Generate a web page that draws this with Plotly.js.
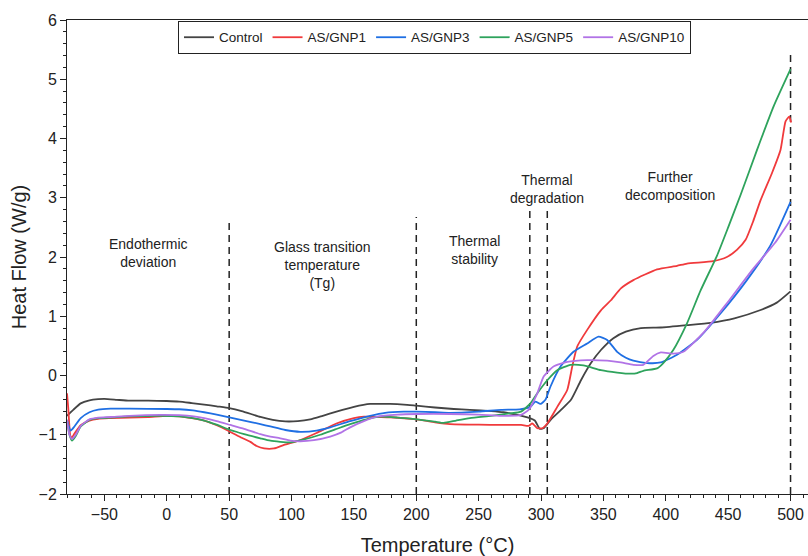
<!DOCTYPE html>
<html>
<head>
<meta charset="utf-8">
<script src="https://cdn.plot.ly/plotly-3.0.1.min.js"></script>
<style>html,body{margin:0;padding:0;background:#fff;}#chart{width:808px;height:556px;}</style>
</head>
<body>
<div id="chart"></div>
<script>
// Series names
const seriesNames = ["Control", "AS/GNP1", "AS/GNP3", "AS/GNP5", "AS/GNP10"];

// Control
const controlT = [-80,-75,-69,-62,-55,-50,-40,-30,-15,0,10,20,30,40,50,60,75,85,95,105,115,125,136,150,163,179,190,200,215,230,243,260,270,280,286,291,295,299,302,305,308,316,324,332,340,348,358,368,380,396,417,436,455,476,489,500];
const controlH = [-0.68,-0.58,-0.47,-0.42,-0.40,-0.395,-0.41,-0.425,-0.425,-0.43,-0.44,-0.465,-0.49,-0.52,-0.55,-0.60,-0.70,-0.75,-0.775,-0.77,-0.74,-0.68,-0.61,-0.53,-0.48,-0.48,-0.49,-0.51,-0.54,-0.565,-0.58,-0.60,-0.62,-0.66,-0.69,-0.72,-0.76,-0.90,-0.89,-0.82,-0.74,-0.58,-0.41,-0.08,0.21,0.43,0.63,0.74,0.80,0.81,0.85,0.89,0.965,1.105,1.23,1.42];

// AS/GNP1
const gnp1T = [-80,-79,-77.5,-76.5,-74,-69,-62,-55,-45,-30,-15,0,10,20,30,40,50,60,67,72,78,86,94,107,120,136,150,158,170,179,200,215,227,250,268,284,290,293,297,301,305,313,321,325,329,337,348,356,364,374,393,409,417,438,449,457,464,470,476,485,492,496,499,500.5];
const gnp1H = [-0.30,-0.55,-1.0,-1.06,-0.98,-0.84,-0.76,-0.73,-0.72,-0.71,-0.70,-0.68,-0.69,-0.72,-0.76,-0.84,-0.94,-1.05,-1.12,-1.19,-1.23,-1.23,-1.17,-1.09,-0.97,-0.81,-0.72,-0.695,-0.70,-0.705,-0.74,-0.79,-0.82,-0.83,-0.835,-0.835,-0.85,-0.81,-0.89,-0.89,-0.81,-0.53,-0.245,0.15,0.49,0.77,1.10,1.27,1.47,1.61,1.79,1.85,1.89,1.93,2.00,2.12,2.29,2.60,2.96,3.41,3.81,4.29,4.37,4.27];

// AS/GNP3
const gnp3T = [-80,-77,-74,-69,-62,-55,-45,-30,0,10,21,30,40,51,62,75,83,95,107,120,131,147,163,175,190,200,215,227,250,268,283,291.5,295.5,299.5,303.5,307.5,315.6,326,337,346,353,361,368,374,385,396,409,425,444,465,484,500];
const gnp3H = [-0.75,-0.93,-0.86,-0.72,-0.62,-0.575,-0.56,-0.56,-0.565,-0.57,-0.59,-0.62,-0.66,-0.71,-0.76,-0.82,-0.86,-0.92,-0.95,-0.93,-0.875,-0.77,-0.68,-0.63,-0.61,-0.61,-0.62,-0.63,-0.61,-0.58,-0.57,-0.53,-0.44,-0.48,-0.41,-0.19,0.15,0.40,0.54,0.655,0.60,0.40,0.30,0.25,0.21,0.22,0.35,0.60,1.05,1.61,2.20,2.93];

// AS/GNP5
const gnp5T = [-80,-78,-76,-73,-69,-62,-55,-45,-30,-5,10,21,30,40,51,62,75,83,99,110,123,135,147,160,171,185,200.7,215,222,232,243,260,275,284,291.5,297,305,313,323.6,334,348,361,372,377,382,393,398,406,417,428,441,450,460,473,486.6,500];
const gnp5H = [-0.75,-1.0,-1.10,-1.02,-0.86,-0.75,-0.72,-0.71,-0.69,-0.68,-0.69,-0.72,-0.76,-0.83,-0.92,-0.99,-1.06,-1.10,-1.13,-1.08,-1.00,-0.91,-0.82,-0.74,-0.695,-0.71,-0.74,-0.78,-0.80,-0.76,-0.72,-0.68,-0.64,-0.61,-0.47,-0.30,-0.08,0.09,0.18,0.17,0.09,0.05,0.03,0.04,0.08,0.12,0.21,0.43,0.88,1.44,2.02,2.50,3.05,3.80,4.55,5.17];

// AS/GNP10
const gnp10T = [-80,-78,-76,-73,-69,-62,-55,-45,-30,-5,10,21.6,30,40,51,62,75,83,91,99,107,118,131,140,147,158,168.6,185,200.7,227,250,268,283.5,290,297,302,310,321,337,353,364,374,382,390,396,406,414,431,449,470,487.6,500];
const gnp10H = [-0.75,-1.0,-1.07,-1.0,-0.85,-0.74,-0.71,-0.70,-0.68,-0.665,-0.67,-0.69,-0.72,-0.77,-0.835,-0.90,-0.99,-1.03,-1.06,-1.10,-1.11,-1.09,-1.03,-0.96,-0.875,-0.77,-0.695,-0.66,-0.65,-0.65,-0.66,-0.68,-0.67,-0.58,-0.30,-0.02,0.15,0.23,0.26,0.25,0.22,0.18,0.18,0.33,0.39,0.37,0.40,0.74,1.22,1.80,2.24,2.63];

// Region divider temperatures and their upper ends
const dividerT = [50, 200, 291, 305, 500];
const dividerTop = [2.59, 2.675, 2.8, 2.8, 5.41];

// Region labels
const regionLabels = ["Endothermic<br>deviation", "Glass transition<br>temperature<br>(Tg)", "Thermal<br>stability", "Thermal<br>degradation", "Further<br>decomposition"];
const regionLabelT = [-14.5, 124.5, 246.5, 304.5, 403];
const regionLabelH = [2.06, 1.87, 2.12, 3.15, 3.2];

const colors = ["#444444", "#f03a3c", "#1f6fe3", "#2ea35c", "#b173e6"];
const seriesT = [controlT, gnp1T, gnp3T, gnp5T, gnp10T];
const seriesH = [controlH, gnp1H, gnp3H, gnp5H, gnp10H];

const traces = [];
dividerT.forEach((t, i) => {
  traces.push({
    x: [t, t], y: [-2, dividerTop[i]], mode: "lines", showlegend: false, hoverinfo: "skip",
    line: {color: "#222", width: 1.5, dash: "7px,5px"}
  });
});
seriesNames.forEach((n, i) => {
  traces.push({
    x: seriesT[i], y: seriesH[i], name: n, mode: "lines",
    line: {color: colors[i], width: 1.8, shape: "spline", smoothing: 0.5}
  });
});

const font = "Liberation Sans, Arial, sans-serif";
const layout = {
  width: 808, height: 556,
  margin: {l: 67, r: 0, t: 20, b: 62},
  paper_bgcolor: "#fff", plot_bgcolor: "#fff",
  font: {family: font, color: "#222", size: 16},
  showlegend: true,
  legend: {
    orientation: "h", x: 0.1498, y: 0.998, xanchor: "left", yanchor: "top",
    bordercolor: "#222", borderwidth: 1, bgcolor: "#fff",
    font: {family: font, size: 13.5, color: "#222"}, itemwidth: 30, tracegroupgap: 0
  },
  xaxis: {
    range: [-80, 514], dtick: 50, tick0: 0, showgrid: false, zeroline: false,
    showline: true, linecolor: "#222", linewidth: 1, mirror: true,
    ticks: "outside", ticklen: 6, tickwidth: 1, tickcolor: "#222",
    minor: {dtick: 10, ticks: "outside", ticklen: 3, tickcolor: "#222", showgrid: false},
    tickfont: {family: font, size: 16, color: "#222"},
    title: {text: "Temperature (°C)", font: {family: font, size: 20, color: "#222"}, standoff: 15}
  },
  yaxis: {
    range: [-2, 6], dtick: 1, showgrid: false, zeroline: false,
    showline: true, linecolor: "#222", linewidth: 1,
    ticks: "outside", ticklen: 6, tickwidth: 1, tickcolor: "#222",
    minor: {dtick: 0.2, ticks: "outside", ticklen: 3, tickcolor: "#222", showgrid: false},
    tickfont: {family: font, size: 16, color: "#222"},
    title: {text: "Heat Flow (W/g)", font: {family: font, size: 20, color: "#222"}, standoff: 6}
  },
  annotations: regionLabels.map((t, i) => ({
    text: t, x: regionLabelT[i], y: regionLabelH[i], xref: "x", yref: "y",
    showarrow: false, font: {family: font, size: 14, color: "#222"}, align: "center"
  }))
};

Plotly.newPlot("chart", traces, layout, {displayModeBar: false, staticPlot: true});
</script>
</body>
</html>
